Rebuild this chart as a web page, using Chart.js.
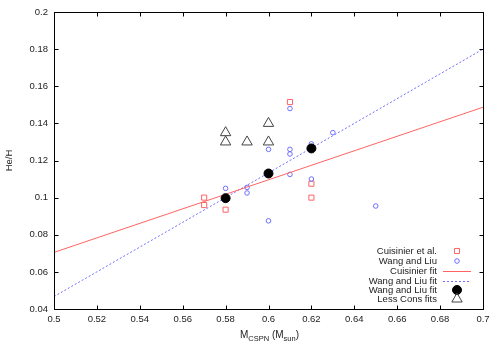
<!DOCTYPE html>
<html>
<head>
<meta charset="utf-8">
<script src="https://cdn.jsdelivr.net/npm/chart.js@4.4.1/dist/chart.umd.min.js"></script>
<style>
  html, body { margin: 0; padding: 0; background: #fff; }
  #wrap { width: 500px; height: 350px; }
</style>
</head>
<body>
<div id="wrap"><canvas id="chart"></canvas></div>
<script>
// tick labels
const xTicks = [0.5, 0.52, 0.54, 0.56, 0.58, 0.6, 0.62, 0.64, 0.66, 0.68, 0.7];
const yTicks = [0.04, 0.06, 0.08, 0.1, 0.12, 0.14, 0.16, 0.18, 0.2];

// Cuisinier et al.
const cuisMass = [0.57, 0.57, 0.58, 0.61, 0.62, 0.62];
const cuisHe   = [0.1, 0.096, 0.0935, 0.1515, 0.1075, 0.1];

// Wang and Liu
const wangMass = [0.61, 0.63, 0.6, 0.61, 0.61, 0.62, 0.61, 0.62, 0.58, 0.59, 0.59, 0.6, 0.65];
const wangHe   = [0.148, 0.135, 0.126, 0.126, 0.1235, 0.129, 0.1125, 0.11, 0.105, 0.1055, 0.1025, 0.0875, 0.0955];

// fits
const fitMass = [0.5, 0.7];
const cuisFit = [0.0705, 0.1487];
const wangFit = [0.0467, 0.180];

// Wang and Liu fit points
const binMass = [0.58, 0.6, 0.62];
const binHe   = [0.0997, 0.113, 0.1265];

// Less Cons fits
const lessMass = [0.58, 0.58, 0.59, 0.6, 0.6];
const lessHe   = [0.135, 0.130, 0.130, 0.140, 0.130];

const pts = (xs, ys) => xs.map((v, i) => ({x: v, y: ys[i]}));

const FONT = '"Liberation Sans", Arial, sans-serif';
const RED = 'rgb(255,100,100)';
const BLUE = 'rgb(110,110,255)';
const NONE = 'rgba(0,0,0,0)';

// legend rows: label, kind, colour, fill, style, radius
const legendRows = [
  ['Cuisinier et al.', 'point', RED, NONE, 'rect', 3.6],
  ['Wang and Liu', 'point', BLUE, NONE, 'circle', 2.3],
  ['Cuisinier fit', 'line', RED, null, [], 0],
  ['Wang and Liu fit', 'line', BLUE, null, [2, 2], 0],
  ['Wang and Liu fit', 'point', '#000', '#000', 'circle', 4.5],
  ['Less Cons fits', 'point', '#444', NONE, 'triangle', 6]
];

const datasets = [
  { label: 'Cuisinier et al.', data: pts(cuisMass, cuisHe), pointStyle: 'rect', pointRadius: 3.6,
    borderColor: RED, backgroundColor: NONE, borderWidth: 1, showLine: false, order: 5 },
  { label: 'Wang and Liu', data: pts(wangMass, wangHe), pointStyle: 'circle', pointRadius: 2.3,
    borderColor: BLUE, backgroundColor: NONE, borderWidth: 1, showLine: false, order: 4 },
  { label: 'Cuisinier fit', data: pts(fitMass, cuisFit), showLine: true, pointRadius: 0,
    borderColor: RED, borderWidth: 1, order: 3 },
  { label: 'Wang and Liu fit', data: pts(fitMass, wangFit), showLine: true, pointRadius: 0,
    borderColor: BLUE, borderWidth: 1, borderDash: [2, 2], order: 3 },
  { label: 'Wang and Liu fit', data: pts(binMass, binHe), pointStyle: 'circle', pointRadius: 4.5,
    borderColor: '#000', backgroundColor: '#000', borderWidth: 1, showLine: false, order: 1 },
  { label: 'Less Cons fits', data: pts(lessMass, lessHe), pointStyle: 'triangle', pointRadius: 6,
    borderColor: '#444', backgroundColor: NONE, borderWidth: 1, showLine: false, order: 0 }
];

// frame, inward ticks, axis titles and the legend, gnuplot style
const gnuplotLook = {
  id: 'gnuplotLook',
  afterDatasetsDraw(chart) {
    const {ctx, chartArea: a, scales: {x, y}} = chart;
    const L = Math.round(a.left) + 0.5, R = Math.round(a.right) + 0.5;
    const T = Math.round(a.top) + 0.5, B = Math.round(a.bottom) + 0.5;
    ctx.save();
    ctx.strokeStyle = '#000';
    ctx.lineWidth = 1;
    ctx.beginPath();
    xTicks.forEach(v => {
      const px = Math.round(x.getPixelForValue(v)) + 0.5;
      ctx.moveTo(px, B); ctx.lineTo(px, B - 4);
      ctx.moveTo(px, T); ctx.lineTo(px, T + 4);
    });
    yTicks.forEach(v => {
      const py = Math.round(y.getPixelForValue(v)) + 0.5;
      ctx.moveTo(L, py); ctx.lineTo(L + 4, py);
      ctx.moveTo(R, py); ctx.lineTo(R - 4, py);
    });
    ctx.stroke();
    ctx.strokeRect(L, T, R - L, B - T);
    ctx.restore();
  },
  afterDraw(chart) {
    const {ctx, chartArea: a} = chart;
    ctx.save();
    ctx.fillStyle = '#222';

    // y title
    ctx.font = '9.5px ' + FONT;
    ctx.textAlign = 'center';
    ctx.textBaseline = 'middle';
    ctx.translate(9, (a.top + a.bottom) / 2);
    ctx.rotate(-Math.PI / 2);
    ctx.fillText('He/H', 0, 0);
    ctx.setTransform(1, 0, 0, 1, 0, 0);

    // x title: M_CSPN (M_sun)
    const parts = [['M', 0], ['CSPN', 1], [' (M', 0], ['sun', 1], [')', 0]];
    const big = '10px ' + FONT, small = '7.5px ' + FONT;
    let w = 0;
    parts.forEach(p => { ctx.font = p[1] ? small : big; w += ctx.measureText(p[0]).width; });
    let cx = (a.left + a.right) / 2 - w / 2 + 1;
    ctx.textAlign = 'left';
    ctx.textBaseline = 'alphabetic';
    parts.forEach(p => {
      ctx.font = p[1] ? small : big;
      ctx.fillText(p[0], cx, p[1] ? 341 : 338);
      cx += ctx.measureText(p[0]).width;
    });

    // legend
    const rowY = [251, 261, 271, 281, 290, 299];
    const textX = 437, symX = 457;
    ctx.font = '9.5px ' + FONT;
    ctx.textAlign = 'right';
    ctx.textBaseline = 'middle';
    legendRows.forEach((r, i) => {
      const yy = rowY[i];
      ctx.fillStyle = '#222';
      ctx.fillText(r[0], textX, yy);
      ctx.save();
      ctx.strokeStyle = r[2];
      ctx.lineWidth = 1;
      if (r[1] === 'line') {
        ctx.setLineDash(r[4]);
        ctx.beginPath();
        ctx.moveTo(443, Math.round(yy) + 0.5);
        ctx.lineTo(471, Math.round(yy) + 0.5);
        ctx.stroke();
      } else {
        ctx.fillStyle = r[3];
        Chart.helpers.drawPoint(ctx, {pointStyle: r[4], radius: r[5], rotation: 0, borderWidth: 1}, symX, yy);
      }
      ctx.restore();
    });
    ctx.restore();
  }
};

new Chart(document.getElementById('chart'), {
  type: 'scatter',
  data: { datasets: datasets },
  options: {
    responsive: true,
    maintainAspectRatio: false,
    animation: false,
    layout: { padding: { top: 12, right: 17, left: 0, bottom: 0 } },
    plugins: { legend: { display: false }, tooltip: { enabled: false } },
    scales: {
      x: {
        type: 'linear', min: 0.5, max: 0.7,
        afterBuildTicks: s => { s.ticks = xTicks.map(v => ({value: v})); },
        afterFit: s => { s.height = 41; },
        grid: { display: false, drawTicks: false },
        border: { display: false },
        ticks: { padding: 5, color: '#222', font: { family: FONT, size: 9.5 }, maxRotation: 0,
                 autoSkip: false, callback: v => String(+v.toFixed(2)) }
      },
      y: {
        type: 'linear', min: 0.04, max: 0.2,
        afterBuildTicks: s => { s.ticks = yTicks.map(v => ({value: v})); },
        afterFit: s => { s.width = 54; },
        grid: { display: false, drawTicks: false },
        border: { display: false },
        ticks: { padding: 6, color: '#222', font: { family: FONT, size: 9.5 },
                 autoSkip: false, callback: v => String(+v.toFixed(2)) }
      }
    }
  },
  plugins: [gnuplotLook]
});
</script>
</body>
</html>
